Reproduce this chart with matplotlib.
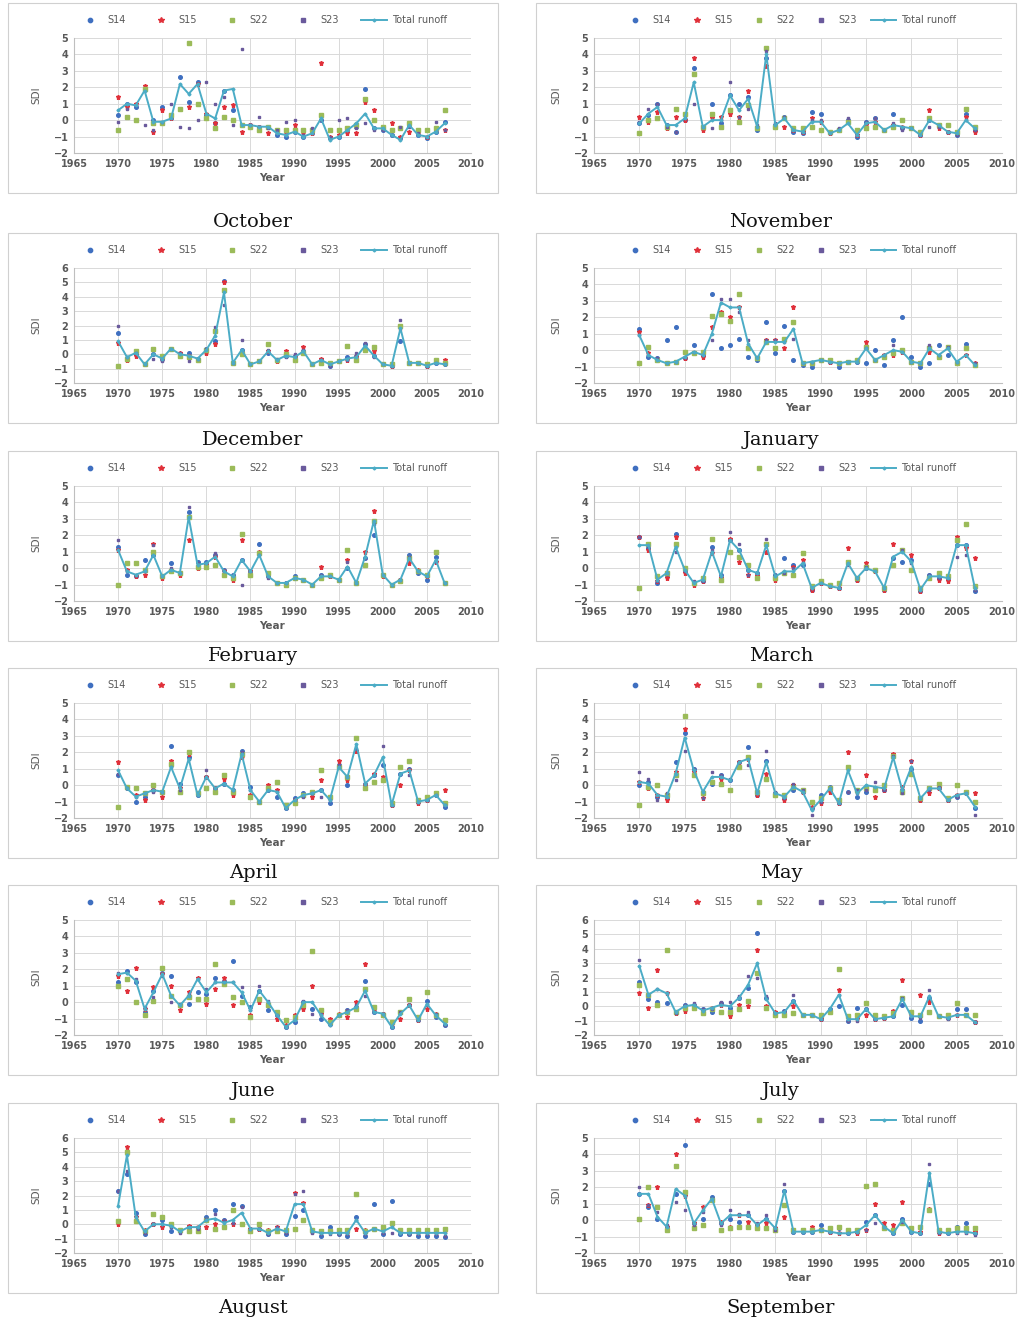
import matplotlib
matplotlib.use("Agg")
import matplotlib.pyplot as plt
from matplotlib.lines import Line2D
from matplotlib.patches import Rectangle

years = list(range(1970, 2008))
xticks = [1965, 1970, 1975, 1980, 1985, 1990, 1995, 2000, 2005, 2010]
series_names = ["S14", "S15", "S22", "S23", "Total runoff"]
months = ["October", "November", "December", "January", "February", "March",
          "April", "May", "June", "July", "August", "September"]
ymax_by_month = [5, 5, 6, 5, 5, 5, 5, 5, 5, 6, 6, 5]

# ---------------- October ----------------
OCT_S14 = [0.3, 1.0, 0.8, 1.9, 0.0, 0.8, 0.1, 2.6, 1.1, 2.3, 0.3, -0.2, 1.8, 0.6, -0.3, -0.3, -0.4, -0.4, -0.9, -1.0, -0.7, -1.0, -0.8, 0.0, -1.1, -1.0, -0.6, -0.4, 1.9, -0.5, -0.6, -0.9, -1.1, -0.3, -0.9, -1.1, -0.7, -0.1]
OCT_S15 = [1.4, 0.8, 1.0, 2.1, -0.7, 0.6, 0.1, 0.7, 0.8, 2.2, 0.4, -0.2, 0.8, 0.9, -0.7, -0.3, -0.4, -0.8, -0.7, -0.8, -0.3, -0.8, -0.8, 3.5, -1.0, -0.9, -0.8, -0.8, 1.1, 0.6, -0.5, -0.2, -1.0, -0.7, -0.8, -1.0, -0.6, -0.6]
OCT_S22 = [-0.6, 0.2, 0.0, 1.9, -0.2, -0.2, 0.3, 0.7, 4.7, 1.0, 0.1, -0.5, 0.2, 0.0, -0.3, -0.4, -0.6, -0.4, -0.6, -0.6, -0.6, -0.6, -0.6, 0.3, -0.6, -0.6, -0.5, -0.3, 1.3, 0.0, -0.4, -0.6, -0.5, -0.2, -0.6, -0.6, -0.5, 0.6]
OCT_S23 = [-0.1, 0.7, 0.9, -0.3, -0.6, -0.1, 1.0, -0.4, -0.5, 0.0, 2.3, 1.0, 1.4, -0.3, 4.3, -0.3, 0.2, -0.5, -0.6, -0.1, 0.0, -0.9, -0.5, 0.0, -1.0, 0.0, 0.1, -0.5, -0.2, -0.6, -0.6, -0.9, -0.4, -0.4, -0.8, -1.0, -0.1, -0.6]
OCT_TOT = [0.6, 1.0, 0.9, 1.8, -0.1, -0.1, 0.1, 2.2, 1.6, 2.2, 0.4, 0.1, 1.8, 1.9, -0.3, -0.3, -0.4, -0.4, -0.8, -0.9, -0.7, -1.0, -0.8, 0.1, -1.2, -1.0, -0.6, -0.2, 0.4, -0.5, -0.5, -0.9, -1.2, -0.3, -0.9, -1.0, -0.7, -0.2]

# ---------------- November ----------------
NOV_S14 = [-0.2, 0.3, 1.0, -0.3, -0.7, 0.0, 3.2, -0.5, 1.0, -0.2, 1.5, 1.0, 1.4, -0.6, 3.8, -0.3, 0.2, -0.7, -0.8, 0.5, 0.4, -0.8, -0.6, 0.0, -1.0, -0.1, 0.1, -0.6, 0.4, -0.5, -0.5, -0.9, 0.0, -0.3, -0.7, -0.9, 0.4, -0.6]
NOV_S15 = [0.2, -0.1, 0.5, -0.5, 0.2, 0.0, 3.8, -0.6, 0.1, 0.2, 0.4, 0.2, 1.8, -0.5, 3.3, -0.4, -0.4, -0.6, -0.7, 0.1, -0.1, -0.8, -0.6, -0.1, -0.9, -0.3, -0.1, -0.6, -0.3, -0.4, -0.5, -0.9, 0.6, -0.5, -0.7, -0.8, 0.2, -0.7]
NOV_S22 = [-0.8, 0.0, 0.1, -0.4, 0.7, 0.4, 2.8, -0.4, 0.4, -0.4, 0.6, -0.1, 0.9, -0.5, 4.4, -0.4, 0.1, -0.5, -0.5, -0.4, -0.6, -0.7, -0.6, -0.1, -0.6, -0.5, -0.4, -0.6, -0.4, 0.0, -0.5, -0.7, 0.1, -0.3, -0.3, -0.7, 0.7, -0.4]
NOV_S23 = [-0.1, 0.7, 1.0, -0.4, -0.7, 0.1, 1.0, -0.4, -0.5, 0.0, 2.3, 0.2, 0.7, -0.3, 4.2, -0.2, 0.2, -0.6, -0.7, 0.0, 0.0, -0.8, -0.5, 0.1, -0.9, -0.1, 0.1, -0.6, -0.2, -0.6, -0.5, -0.9, -0.4, -0.4, -0.7, -0.9, 0.0, -0.6]
NOV_TOT = [-0.2, 0.4, 0.8, -0.3, -0.3, 0.1, 2.3, -0.4, 0.0, 0.0, 1.5, 0.6, 1.3, -0.4, 4.0, -0.3, 0.1, -0.6, -0.7, -0.1, -0.1, -0.8, -0.6, -0.2, -0.9, -0.2, -0.1, -0.6, -0.3, -0.4, -0.5, -0.9, 0.0, -0.3, -0.7, -0.8, 0.0, -0.5]

# ---------------- December ----------------
DEC_S14 = [1.5, -0.3, 0.0, -0.7, 0.0, -0.3, 0.4, 0.0, 0.1, -0.3, 0.4, 0.9, 5.1, -0.6, 0.3, -0.7, -0.5, 0.1, -0.4, -0.1, -0.1, 0.2, -0.7, -0.4, -0.8, -0.5, -0.2, -0.1, 0.7, -0.1, -0.7, -0.8, 0.9, -0.6, -0.6, -0.8, -0.6, -0.7]
DEC_S15 = [0.8, -0.4, -0.1, -0.7, 0.4, -0.3, 0.4, 0.1, -0.1, -0.3, 0.1, 0.7, 5.0, -0.6, 0.1, -0.7, -0.5, 0.2, -0.5, 0.2, -0.2, 0.5, -0.7, -0.3, -0.7, -0.5, -0.4, -0.2, 0.3, 0.2, -0.7, -0.8, 1.8, -0.6, -0.6, -0.8, -0.5, -0.4]
DEC_S22 = [-0.8, -0.3, 0.2, -0.7, 0.4, -0.1, 0.4, -0.1, -0.2, -0.4, 0.3, 1.6, 4.5, -0.6, 0.0, -0.7, -0.5, 0.7, -0.4, 0.0, -0.4, 0.1, -0.7, -0.6, -0.6, -0.5, 0.6, -0.4, 0.3, 0.5, -0.7, -0.7, 2.0, -0.6, -0.6, -0.7, -0.4, -0.6]
DEC_S23 = [2.0, -0.2, 0.1, -0.7, -0.3, -0.5, 0.4, 0.1, -0.5, -0.3, 0.4, 1.9, 3.4, -0.6, 1.0, -0.7, -0.5, 0.3, -0.3, -0.2, 0.0, 0.3, -0.7, -0.4, -0.8, -0.5, -0.4, 0.1, 0.8, -0.2, -0.7, -0.8, 2.4, -0.6, -0.6, -0.8, -0.6, -0.7]
DEC_TOT = [0.9, -0.2, 0.1, -0.7, 0.0, -0.3, 0.4, 0.0, -0.1, -0.3, 0.3, 1.3, 4.3, -0.6, 0.3, -0.7, -0.5, 0.2, -0.4, -0.1, -0.2, 0.2, -0.7, -0.4, -0.7, -0.5, -0.3, -0.2, 0.6, -0.1, -0.7, -0.8, 1.8, -0.6, -0.6, -0.8, -0.6, -0.7]

# ---------------- January ----------------
JAN_S14 = [1.3, -0.4, -0.5, 0.6, 1.4, -0.5, 0.3, -0.3, 3.4, 0.1, 0.3, 0.7, -0.4, -0.6, 1.7, -0.2, 1.5, -0.6, -0.9, -1.0, -0.6, -0.7, -1.0, -0.7, -0.7, -0.8, 0.0, -0.9, 0.6, 2.0, -0.4, -1.0, -0.8, 0.3, -0.3, -0.8, 0.4, -0.9]
JAN_S15 = [1.1, -0.2, -0.6, -0.8, -0.7, -0.5, -0.2, -0.4, 1.4, 2.3, 2.0, 2.6, 0.2, -0.5, 0.6, 0.6, 0.1, 2.6, -0.8, -0.8, -0.6, -0.7, -0.8, -0.7, -0.6, 0.5, -0.6, -0.3, -0.3, -0.1, -0.7, -0.8, -0.1, -0.4, 0.2, -0.8, -0.3, -0.8]
JAN_S22 = [-0.8, 0.2, -0.6, -0.8, -0.7, -0.1, -0.2, -0.1, 2.1, 2.2, 1.8, 3.4, 0.1, -0.5, 0.5, 0.1, 0.7, 1.7, -0.8, -0.8, -0.6, -0.6, -0.8, -0.7, -0.6, 0.2, -0.6, -0.4, -0.2, 0.0, -0.7, -0.8, 0.1, -0.4, 0.2, -0.8, 0.1, -0.9]
JAN_S23 = [0.9, -0.3, -0.5, -0.8, -0.7, -0.4, -0.1, -0.3, 0.6, 3.1, 3.1, 2.3, 0.6, -0.4, 0.6, 0.6, 0.5, 0.7, -0.8, -0.7, -0.6, -0.7, -0.8, -0.7, -0.7, 0.1, -0.6, -0.3, 0.3, -0.1, -0.7, -0.8, 0.3, -0.3, 0.2, -0.7, -0.3, -0.8]
JAN_TOT = [0.9, -0.3, -0.6, -0.8, -0.7, -0.4, -0.1, -0.3, 1.0, 2.9, 2.6, 2.6, 0.4, -0.5, 0.5, 0.5, 0.5, 1.3, -0.8, -0.7, -0.6, -0.7, -0.8, -0.7, -0.7, 0.1, -0.6, -0.3, 0.0, -0.1, -0.7, -0.8, 0.1, -0.3, 0.1, -0.7, -0.3, -0.9]

# ---------------- February ----------------
FEB_S14 = [1.3, -0.4, -0.5, 0.5, 0.8, -0.5, 0.3, -0.3, 3.4, 0.4, 0.4, 0.8, -0.1, -0.4, 0.5, -0.2, 1.5, -0.5, -0.9, -0.9, -0.5, -0.7, -1.0, -0.4, -0.5, -0.7, 0.0, -0.9, 0.6, 2.0, -0.4, -1.0, -0.7, 0.8, -0.3, -0.7, 0.7, -0.9]
FEB_S15 = [1.1, -0.1, -0.5, -0.4, 1.5, -0.6, -0.1, -0.4, 1.7, 0.0, 0.2, 0.7, -0.2, -0.7, 1.7, -0.2, 1.0, -0.4, -0.9, -1.0, -0.6, -0.7, -1.0, 0.1, -0.5, -0.7, 0.5, -0.9, 1.0, 3.5, -0.5, -1.0, -0.7, 0.3, -0.1, -0.5, 0.4, -0.9]
FEB_S22 = [-1.0, 0.3, 0.3, -0.1, 1.0, -0.5, -0.2, -0.3, 3.1, 0.1, 0.1, 0.2, -0.4, -0.6, 2.1, -0.4, 0.9, -0.3, -0.9, -1.0, -0.6, -0.7, -1.0, -0.6, -0.4, -0.7, 1.1, -0.9, 0.2, 2.9, -0.4, -1.0, -0.8, 0.6, -0.2, -0.4, 1.0, -0.9]
FEB_S23 = [1.7, -0.2, -0.4, -0.2, 1.4, -0.5, 0.0, -0.3, 3.7, 0.3, 0.3, 0.9, -0.2, -0.4, -1.0, -0.2, 0.8, -0.6, -0.9, -0.9, -0.6, -0.7, -1.0, -0.4, -0.5, -0.7, 0.4, -0.9, 0.6, 2.7, -0.4, -1.0, -0.7, 0.7, -0.2, -0.5, 0.4, -0.9]
FEB_TOT = [1.1, -0.2, -0.4, -0.2, 0.8, -0.5, -0.1, -0.3, 3.1, 0.2, 0.3, 0.7, -0.2, -0.5, 0.5, -0.2, 0.8, -0.5, -0.9, -0.9, -0.6, -0.7, -1.0, -0.5, -0.5, -0.7, 0.1, -0.9, 0.7, 2.9, -0.4, -1.0, -0.7, 0.6, -0.2, -0.5, 0.5, -0.9]

# ---------------- March ----------------
MAR_S14 = [1.9, 1.2, -0.9, -0.4, 2.1, -0.1, -0.9, -0.8, 1.3, -0.4, 1.7, 1.1, -0.1, -0.3, 1.5, -0.4, 0.6, 0.2, 0.2, -1.3, -0.9, -1.1, -1.2, 0.4, -0.7, 0.0, -0.2, -1.3, 0.6, 0.4, 0.5, -1.4, -0.4, -0.6, -0.6, 1.4, 1.4, -1.4]
MAR_S15 = [1.9, 1.1, -0.8, -0.6, 1.9, -0.3, -1.0, -0.8, 0.9, -0.6, 1.8, 0.4, -0.4, -0.5, 1.0, -0.7, -0.3, 0.1, 0.5, -1.3, -0.9, -1.1, -1.2, 1.2, -0.7, 0.3, -0.2, -1.3, 1.5, 1.1, 0.8, -1.4, -0.6, -0.7, -0.8, 1.9, 1.2, 0.6]
MAR_S22 = [-1.2, 1.5, -0.5, -0.3, 1.5, 0.0, -0.9, -0.6, 1.8, -0.7, 1.0, 0.7, 0.2, -0.6, 1.5, -0.6, -0.3, -0.4, 0.9, -1.1, -0.8, -1.0, -0.9, 0.4, -0.6, 0.1, -0.1, -1.2, 0.2, 1.1, -0.1, -1.2, -0.6, -0.3, -0.5, 1.7, 2.7, -1.1]
MAR_S23 = [1.9, 1.3, -0.8, -0.3, 1.0, -0.2, -0.8, -0.8, 1.1, -0.5, 2.2, 1.5, -0.4, -0.3, 1.8, -0.4, -0.3, 0.0, 0.3, -1.2, -0.9, -1.1, -1.2, 0.2, -0.6, 0.1, -0.2, -1.2, 0.7, 1.1, 0.3, -1.3, -0.4, -0.6, -0.6, 0.7, 0.8, -1.3]
MAR_TOT = [1.4, 1.4, -0.7, -0.3, 1.3, -0.1, -0.9, -0.7, 1.0, -0.5, 1.7, 1.1, -0.1, -0.3, 1.4, -0.5, -0.2, -0.2, 0.3, -1.2, -0.9, -1.1, -1.2, 0.3, -0.6, 0.0, -0.2, -1.2, 0.7, 1.0, 0.4, -1.3, -0.5, -0.5, -0.6, 1.4, 1.4, -1.2]

# ---------------- April ----------------
APR_S14 = [0.6, -0.2, -1.0, -0.7, -0.3, -0.4, 2.4, 0.1, 1.7, -0.6, 0.5, -0.2, 0.1, -0.3, 2.1, -0.1, -1.0, -0.3, -0.7, -1.4, -0.8, -0.5, -0.5, -0.3, -1.1, 1.2, 0.0, 2.1, 0.1, 0.6, 1.2, -1.2, 0.7, 1.0, -1.0, -0.9, -0.6, -1.3]
APR_S15 = [1.4, -0.1, -0.6, -0.9, -0.3, -0.7, 1.5, -0.2, 1.9, -0.5, 0.5, -0.2, 0.4, -0.6, 1.7, -0.6, -1.0, 0.0, -0.3, -1.3, -0.9, -0.6, -0.7, 0.3, -0.8, 1.5, 0.3, 2.1, 0.0, 0.7, 0.5, -1.2, 0.0, 0.9, -1.1, -0.9, -0.5, -0.3]
APR_S22 = [-1.3, -0.1, -0.2, -0.5, 0.0, -0.4, 1.3, -0.4, 2.0, -0.5, -0.2, -0.4, 0.6, -0.4, 1.9, -0.7, -1.0, -0.2, 0.2, -1.2, -1.1, -0.6, -0.4, 0.9, -0.7, 1.1, 0.5, 2.9, -0.2, 0.2, 0.3, -1.1, 1.1, 1.5, -0.9, -0.7, -0.5, -1.1]
APR_S23 = [0.7, -0.2, -0.7, -0.5, -0.4, -0.4, 1.1, -0.3, 1.6, -0.6, 0.9, -0.2, 0.1, -0.3, 2.0, -0.3, -1.0, -0.3, -0.4, -1.4, -0.9, -0.7, -0.5, -0.7, -0.9, 1.2, 0.5, 2.2, 0.1, 0.6, 2.4, -1.2, 0.7, 0.6, -1.0, -0.9, -0.6, -1.2]
APR_TOT = [0.9, -0.2, -0.7, -0.5, -0.3, -0.4, 1.1, -0.2, 1.6, -0.6, 0.5, -0.2, 0.1, -0.3, 1.9, -0.3, -1.0, -0.3, -0.4, -1.4, -0.9, -0.6, -0.5, -0.3, -0.9, 1.1, 0.5, 2.5, 0.1, 0.6, 1.7, -1.2, 0.7, 0.9, -1.0, -0.9, -0.6, -1.2]

# ---------------- May ----------------
MAY_S14 = [0.0, 0.2, -0.7, -0.7, 1.4, 3.2, 1.0, -0.4, 0.1, 0.6, 0.3, 1.4, 2.3, -0.6, 1.5, -0.5, -0.7, -0.3, -0.4, -1.4, -0.6, -0.1, -1.1, -0.4, -0.7, -0.4, -0.2, -0.3, 1.8, -0.3, 1.0, -0.9, -0.2, -0.2, -0.9, -0.7, -0.5, -1.4]
MAY_S15 = [0.2, -0.2, -0.6, -0.9, 0.8, 3.4, 0.8, -0.8, 0.2, 0.4, -0.3, 1.4, 1.6, -0.6, 0.7, -0.6, -0.9, 0.0, -0.4, -1.3, -1.1, -0.4, -1.1, 2.0, -0.4, 0.6, -0.7, -0.3, 1.9, -0.1, 1.5, -0.9, -0.5, -0.2, -0.9, -0.6, -0.4, -0.5]
MAY_S22 = [-1.2, -0.1, 0.0, -0.6, 0.6, 4.2, 0.6, -0.5, 0.2, 0.1, -0.3, 1.1, 1.7, -0.4, 0.4, -0.6, -0.6, -0.1, -0.3, -1.0, -0.8, -0.2, -0.9, 1.1, -0.3, -0.2, -0.3, 0.0, 1.8, -0.4, 0.7, -0.8, -0.2, 0.1, -0.8, 0.0, -0.4, -1.0]
MAY_S23 = [0.8, 0.4, -0.9, -0.5, 0.3, 2.1, 1.0, -0.8, 0.8, 0.6, 0.4, 1.4, 1.2, -0.4, 2.1, -0.4, -0.8, 0.1, -0.3, -1.8, -1.0, -0.2, -1.1, -0.4, -0.3, -0.3, 0.2, -0.3, 1.8, -0.5, 1.5, -0.8, -0.3, -0.1, -0.9, -0.7, -0.5, -1.8]
MAY_TOT = [0.2, 0.1, -0.6, -0.7, 0.7, 2.9, 0.9, -0.4, 0.5, 0.5, 0.3, 1.4, 1.6, -0.5, 1.4, -0.5, -0.7, -0.1, -0.4, -1.5, -0.9, -0.2, -1.1, 0.9, -0.5, 0.0, -0.1, -0.2, 1.7, -0.3, 1.1, -0.8, -0.2, -0.2, -0.9, -0.6, -0.5, -1.3]

# ---------------- June ----------------
JUN_S14 = [1.2, 1.9, 1.2, -0.6, 0.7, 1.8, 1.6, -0.2, -0.1, 0.6, 0.5, 1.5, 1.3, 2.5, 0.4, -0.3, 0.7, -0.5, -0.8, -1.5, -1.2, 0.0, -0.4, -1.0, -1.3, -0.8, -0.5, -0.3, 1.3, -0.6, -0.7, -1.5, -0.6, -0.2, -1.1, 0.1, -0.9, -1.4]
JUN_S15 = [1.6, 0.7, 2.1, -0.4, 0.9, 1.7, 1.0, -0.5, 0.6, 1.5, -0.1, 0.8, 1.5, -0.2, 0.0, -0.8, 0.0, -0.1, -1.0, -1.4, -0.8, -0.4, 1.0, -0.7, -1.0, -0.7, -0.9, 0.0, 2.3, -0.5, -0.7, -1.3, -1.0, -0.2, -1.1, -0.4, -0.7, -1.1]
JUN_S22 = [1.0, 1.4, 0.0, -0.8, 0.1, 2.1, 0.4, -0.2, 0.3, 0.2, 0.2, 2.3, 1.1, 0.3, 0.0, -0.9, 0.2, -0.2, -0.6, -1.1, -0.9, -0.2, 3.1, -0.5, -1.2, -0.8, -0.6, -0.4, 0.8, -0.3, -0.8, -1.2, -0.6, 0.2, -0.9, 0.6, -0.8, -1.1]
JUN_S23 = [1.8, 1.8, 1.4, -0.3, 0.3, 1.6, 0.0, -0.1, 0.5, 1.4, 0.8, 1.2, 1.2, 1.2, 0.9, -0.5, 1.0, 0.1, -0.8, -1.5, -1.1, 0.1, -0.7, -0.7, -1.4, -0.8, -0.5, -0.2, 0.4, -0.6, -0.7, -1.5, -0.6, -0.2, -1.1, -0.2, -0.7, -1.4]
JUN_TOT = [1.7, 1.8, 1.3, -0.4, 0.6, 1.7, 0.4, -0.2, 0.4, 1.4, 0.6, 1.2, 1.2, 1.2, 0.6, -0.5, 0.7, 0.0, -0.8, -1.5, -1.1, 0.0, 0.0, -0.8, -1.4, -0.8, -0.6, -0.3, 0.7, -0.6, -0.7, -1.5, -0.7, -0.2, -1.1, -0.1, -0.8, -1.3]

# ---------------- July ----------------
JUL_S14 = [1.7, 0.5, 0.3, 0.2, -0.4, 0.1, 0.1, -0.2, -0.4, 0.2, -0.1, 0.6, 1.3, 5.1, 0.6, -0.5, -0.3, 0.4, -0.6, -0.6, -0.9, -0.2, 0.0, -1.0, -0.1, -0.2, -0.9, -0.8, -0.7, 0.1, -0.8, -1.0, 0.6, -0.7, -0.8, -0.2, -0.2, -1.1]
JUL_S15 = [0.9, -0.1, 2.5, 0.9, -0.5, -0.3, 0.0, -0.3, -0.1, 0.1, -0.7, 0.1, 0.0, 3.9, 0.0, -0.4, -0.5, 0.0, -0.6, -0.6, -0.9, -0.3, 1.1, -0.7, -0.9, -0.6, -0.9, -0.8, -0.3, 1.8, -0.6, 0.8, 0.3, -0.7, -0.8, -0.6, -0.6, -1.1]
JUL_S22 = [1.5, 0.8, 0.1, 3.9, -0.4, -0.1, -0.1, -0.5, -0.2, -0.4, -0.4, -0.2, 0.4, 2.3, -0.1, -0.6, -0.6, -0.5, -0.6, -0.6, -0.6, -0.4, 2.6, -0.7, -0.6, 0.2, -0.6, -0.7, -0.5, 0.6, -0.4, -0.6, -0.4, -0.7, -0.6, 0.2, -0.6, -0.6]
JUL_S23 = [3.2, 0.8, 1.2, 0.9, -0.5, 0.1, 0.2, -0.2, -0.2, 0.3, 0.3, 0.7, 2.1, 2.0, 0.7, -0.5, -0.3, 0.8, -0.6, -0.6, -0.9, -0.2, 0.8, -1.0, -1.0, -0.2, -0.9, -0.8, -0.7, 0.6, -0.7, -0.8, 1.1, -0.7, -0.9, -0.6, -0.6, -1.1]
JUL_TOT = [2.8, 0.8, 1.2, 0.9, -0.4, 0.0, 0.1, -0.3, -0.1, 0.1, 0.0, 0.6, 1.5, 3.0, 0.5, -0.5, -0.4, 0.4, -0.6, -0.6, -0.9, -0.2, 0.8, -0.9, -0.9, -0.2, -0.9, -0.8, -0.7, 0.5, -0.7, -0.7, 0.7, -0.7, -0.8, -0.6, -0.6, -1.1]

# ---------------- August ----------------
AUG_S14 = [2.3, 3.5, 0.8, -0.7, 0.0, 0.3, -0.5, -0.5, -0.2, -0.3, 0.5, 1.0, 0.3, 1.4, 1.3, -0.3, -0.3, -0.7, -0.4, -0.7, 0.6, 1.0, -0.5, -0.8, -0.2, -0.7, -0.8, 0.5, -0.8, 1.4, -0.7, 1.6, -0.7, -0.7, -0.8, -0.8, -0.8, -0.9]
AUG_S15 = [0.0, 5.4, 0.5, -0.4, 0.0, -0.2, -0.1, -0.4, -0.1, -0.2, -0.2, 0.0, 0.2, 0.0, 0.0, -0.3, -0.3, -0.4, -0.2, -0.5, 2.2, 1.5, -0.5, -0.5, -0.5, -0.6, -0.6, -0.3, -0.4, -0.3, -0.4, 0.0, -0.5, -0.6, -0.6, -0.6, -0.6, -0.5]
AUG_S22 = [0.2, 5.0, 0.2, -0.5, 0.7, 0.5, 0.0, -0.4, -0.5, -0.5, 0.3, -0.3, -0.2, 1.0, 0.0, -0.5, 0.0, -0.5, -0.5, -0.4, -0.3, 0.3, -0.4, -0.5, -0.5, -0.4, -0.4, 2.1, -0.5, -0.3, -0.2, 0.1, -0.4, -0.4, -0.4, -0.4, -0.4, -0.3]
AUG_S23 = [2.3, 3.7, 0.6, -0.6, 0.0, 0.0, -0.2, -0.6, -0.2, -0.3, 0.4, 0.7, 0.3, 0.1, 1.2, -0.3, -0.3, -0.7, -0.2, -0.6, 2.1, 2.3, -0.6, -0.7, -0.7, -0.7, -0.7, 0.3, -0.7, -0.3, -0.6, -0.6, -0.6, -0.7, -0.7, -0.7, -0.7, -0.8]
AUG_TOT = [1.3, 4.8, 0.5, -0.5, 0.0, 0.0, -0.1, -0.5, -0.2, -0.2, 0.3, 0.4, 0.1, 0.3, 0.8, -0.3, -0.3, -0.6, -0.3, -0.5, 1.4, 1.4, -0.5, -0.6, -0.6, -0.6, -0.6, 0.3, -0.6, -0.3, -0.5, -0.2, -0.6, -0.6, -0.6, -0.6, -0.6, -0.6]

# ---------------- September ----------------
SEP_S14 = [1.6, 0.8, 0.1, -0.4, 1.6, 4.6, -0.2, 0.1, 1.4, -0.2, 0.1, -0.1, 0.3, -0.3, 0.1, -0.5, 1.8, -0.7, -0.7, -0.7, -0.3, -0.7, -0.5, -0.8, -0.7, -0.1, 0.3, -0.4, -0.8, 0.1, -0.7, -0.8, 2.2, -0.7, -0.8, -0.4, -0.2, -0.8]
SEP_S15 = [0.1, 0.9, 2.0, -0.4, 4.0, 1.5, -0.2, 0.8, 1.2, -0.1, -0.4, 0.3, -0.1, -0.3, -0.2, -0.5, 0.2, -0.6, -0.6, -0.4, -0.6, -0.7, -0.8, -0.7, -0.8, -0.6, 1.0, -0.2, -0.3, 1.1, -0.6, -0.7, 0.7, -0.8, -0.7, -0.7, -0.7, -0.7]
SEP_S22 = [0.1, 2.0, 0.8, -0.6, 3.3, 1.7, -0.5, -0.3, 1.2, -0.6, -0.5, -0.4, -0.4, -0.5, -0.5, -0.6, 0.9, -0.6, -0.6, -0.6, -0.6, -0.5, -0.4, -0.6, -0.6, 2.1, 2.2, -0.5, -0.6, -0.2, -0.5, -0.4, 0.6, -0.6, -0.6, -0.5, -0.5, -0.5]
SEP_S23 = [2.0, 0.9, 0.5, -0.3, 1.1, 0.6, -0.3, 0.5, 1.3, -0.3, 0.6, 0.4, 0.5, -0.2, 0.3, -0.6, 2.2, -0.7, -0.7, -0.7, -0.6, -0.7, -0.8, -0.8, -0.7, -0.6, -0.2, -0.4, -0.8, -0.1, -0.7, -0.8, 3.4, -0.8, -0.8, -0.8, -0.8, -0.9]
SEP_TOT = [1.6, 1.6, 0.2, -0.4, 1.9, 1.5, -0.2, 0.6, 1.3, -0.2, 0.3, 0.3, 0.3, -0.3, 0.1, -0.5, 1.8, -0.7, -0.7, -0.7, -0.6, -0.7, -0.8, -0.8, -0.7, -0.3, 0.3, -0.4, -0.8, 0.0, -0.7, -0.8, 2.9, -0.7, -0.8, -0.7, -0.7, -0.8]

panel_data = [
    (OCT_S14, OCT_S15, OCT_S22, OCT_S23, OCT_TOT),
    (NOV_S14, NOV_S15, NOV_S22, NOV_S23, NOV_TOT),
    (DEC_S14, DEC_S15, DEC_S22, DEC_S23, DEC_TOT),
    (JAN_S14, JAN_S15, JAN_S22, JAN_S23, JAN_TOT),
    (FEB_S14, FEB_S15, FEB_S22, FEB_S23, FEB_TOT),
    (MAR_S14, MAR_S15, MAR_S22, MAR_S23, MAR_TOT),
    (APR_S14, APR_S15, APR_S22, APR_S23, APR_TOT),
    (MAY_S14, MAY_S15, MAY_S22, MAY_S23, MAY_TOT),
    (JUN_S14, JUN_S15, JUN_S22, JUN_S23, JUN_TOT),
    (JUL_S14, JUL_S15, JUL_S22, JUL_S23, JUL_TOT),
    (AUG_S14, AUG_S15, AUG_S22, AUG_S23, AUG_TOT),
    (SEP_S14, SEP_S15, SEP_S22, SEP_S23, SEP_TOT),
]

# ---------------- styling ----------------
W, H = 1018, 1324
C_S14 = "#3F6FC0"
C_S15 = "#E0303A"
C_S22 = "#9BBB59"
C_S23 = "#6A5A9C"
C_TOT = "#4BACC6"
GRID = "#D9D9D9"
TXT = "#595959"

marker_styles = [
    dict(marker="o", ms=2.6, color=C_S14),
    dict(marker="*", ms=3.6, color=C_S15),
    dict(marker="s", ms=3.0, color=C_S22),
    dict(marker="s", ms=2.0, color=C_S23),
]

row_tops = [5, 235, 453, 670, 887, 1105]
label_y = [222, 440, 656, 873, 1091, 1308]
col_axes_x = [(74, 471), (594, 1002)]
col_frame_x = [(8, 498), (536, 1016)]
col_label_x = [253, 781]
col_legend_x = [262, 789]
col_legend_spacing = [2.3, 1.4]

fig = plt.figure(figsize=(W / 100, H / 100), dpi=100)
fig.patch.set_facecolor("white")


def fx(px):
    return px / W


def fy(py):
    return 1 - py / H


for i, month in enumerate(months):
    r, c = divmod(i, 2)
    top = row_tops[r]
    x0, x1 = col_axes_x[c]
    ax_top = top + 33
    ax_bot = top + 148
    ax = fig.add_axes([fx(x0), fy(ax_bot), fx(x1 - x0), (ax_bot - ax_top) / H])

    # panel frame
    f0, f1 = col_frame_x[c]
    fig.patches.append(Rectangle((fx(f0), fy(top + 188)), fx(f1 - f0), 190 / H,
                                 transform=fig.transFigure, fill=False,
                                 edgecolor="#D0D0D0", lw=0.8, zorder=0))

    s14, s15, s22, s23, tot = panel_data[i]
    for vals, st in zip((s14, s15, s22, s23), marker_styles):
        ax.plot(years, vals, linestyle="none", marker=st["marker"], ms=st["ms"],
                color=st["color"], mec=st["color"], zorder=3)
    ax.plot(years, tot, color=C_TOT, lw=1.4, marker="D", ms=1.5, zorder=4)

    ymax = ymax_by_month[i]
    ax.set_xlim(1965, 2010)
    ax.set_ylim(-2, ymax)
    ax.set_xticks(xticks)
    ax.set_yticks(range(-2, ymax + 1))
    ax.grid(True, color=GRID, lw=0.7)
    ax.set_axisbelow(True)
    for s in ("top", "right"):
        ax.spines[s].set_visible(False)
    for s in ("left", "bottom"):
        ax.spines[s].set_color("#BFBFBF")
        ax.spines[s].set_linewidth(0.8)
    ax.tick_params(length=0, labelsize=7, labelcolor=TXT, pad=4)
    for lab in ax.get_xticklabels() + ax.get_yticklabels():
        lab.set_fontweight("bold")
    ax.set_xlabel("Year", fontsize=7.5, color=TXT, fontweight="bold", labelpad=3)
    ax.set_ylabel("SDI", fontsize=7.5, color=TXT, labelpad=9)

    handles = [Line2D([], [], linestyle="none", marker=st["marker"], ms=st["ms"] + 0.5,
                      color=st["color"]) for st in marker_styles]
    handles.append(Line2D([], [], color=C_TOT, lw=1.4, marker="D", ms=1.5))
    fig.legend(handles, series_names, loc="center",
               bbox_to_anchor=(fx(col_legend_x[c]), fy(top + 15)),
               ncol=5, frameon=False, fontsize=7, handlelength=2.6,
               columnspacing=col_legend_spacing[c], handletextpad=0.5,
               labelcolor=TXT)

    fig.text(fx(col_label_x[c]), fy(label_y[r]), month, ha="center", va="center",
             fontsize=14, family="DejaVu Serif", color="#111111")

fig.savefig("out.png", dpi=100, facecolor="white")
